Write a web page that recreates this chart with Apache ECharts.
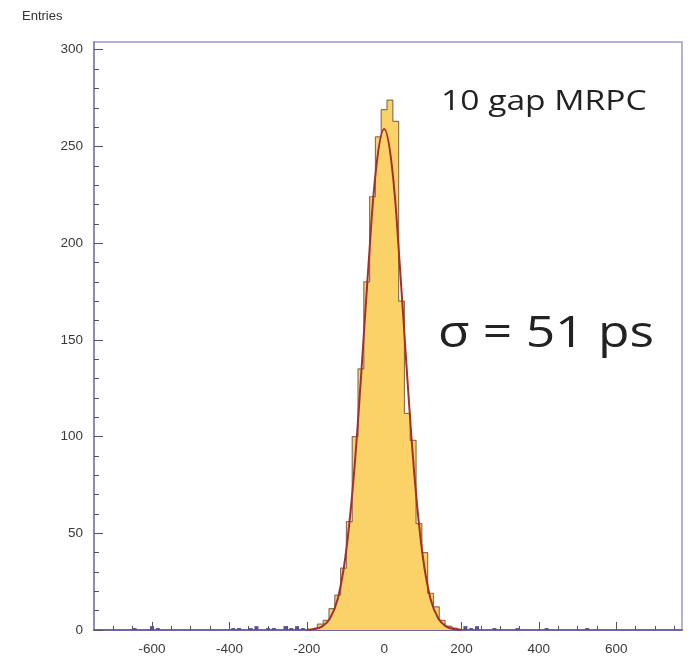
<!DOCTYPE html>
<html>
<head>
<meta charset="utf-8">
<script src="https://cdn.jsdelivr.net/npm/echarts@6/dist/echarts.min.js"></script>
<style>
  html, body { margin: 0; padding: 0; background: #fff; }
  #chart { width: 695px; height: 665px; }
</style>
</head>
<body>
<div id="chart"></div>
<script>
// histogram bin centres (15 ps wide) and entries
const binCenters = [-195, -180, -165, -150, -135, -120, -105, -90, -75, -60, -45, -30, -15, 0,
  15, 30, 45, 60, 75, 90, 105, 120, 135, 150, 165, 180, 195];
const binCounts = [0, 1, 3, 5, 11, 18, 32, 56, 100, 135, 180, 224, 255, 269,
  274, 263, 170, 112, 98, 55, 40, 19, 12, 5, 2, 1, 0];

// scattered single entries far in the tails
const tailX = [-645, -600, -585, -390, -375, -345, -330, -300, -285, -255, -240, -225, -210,
  210, 225, 240, 285, 345, 420, 525];
const tailCounts = [1, 2, 1, 1, 1, 1, 2, 1, 1, 2, 1, 2, 1, 2, 1, 2, 1, 1, 1, 1];

// gaussian fit curve
const fitX = [-200, -180, -160, -140, -120, -100, -80, -60, -40, -20, 0,
  20, 40, 60, 80, 100, 120, 140, 160, 180, 200];
const fitY = [0.1, 0.5, 1.9, 6, 16, 38, 76, 130, 190, 240, 259,
  240, 190, 130, 76, 38, 16, 6, 1.9, 0.5, 0.1];

const xLabels = [-600, -400, -200, 0, 200, 400, 600];
const xMinor = [-700, -650, -600, -550, -500, -450, -400, -350, -300, -250, -200, -150, -100, -50,
  0, 50, 100, 150, 200, 250, 300, 350, 400, 450, 500, 550, 600, 650, 700, 750];
const yLabels = [0, 50, 100, 150, 200, 250, 300];
const yMinor = [10, 20, 30, 40, 60, 70, 80, 90, 110, 120, 130, 140, 160, 170, 180, 190,
  210, 220, 230, 240, 260, 270, 280, 290];

const chart = echarts.init(document.getElementById('chart'));

const labelStyle = { color: '#3a3a3a', fontSize: 13.5, fontFamily: 'Liberation Sans' };

const option = {
  animation: false,
  grid: {
    left: 94, right: 13, top: 42, bottom: 35,
    show: true, borderColor: '#b4b2d0', borderWidth: 2
  },
  xAxis: [
    {
      type: 'value', min: -750, max: 770,
      axisLine: { show: true, onZero: false, lineStyle: { color: '#6e66a4', width: 2 } },
      axisTick: { show: true, inside: true, length: 8, customValues: xLabels, lineStyle: { color: '#555' } },
      axisLabel: { ...labelStyle, margin: 12, customValues: xLabels },
      splitLine: { show: false }
    },
    {
      type: 'value', min: -750, max: 770, position: 'bottom',
      axisLine: { show: false, onZero: false },
      axisTick: { show: true, inside: true, length: 4, customValues: xMinor, lineStyle: { color: '#555' } },
      axisLabel: { show: false },
      splitLine: { show: false }
    }
  ],
  yAxis: [
    {
      type: 'value', min: 0, max: 304,
      axisLine: { show: true, onZero: false, lineStyle: { color: '#8e8ab8', width: 2 } },
      axisTick: { show: true, inside: true, length: 9, customValues: yLabels, lineStyle: { color: '#555' } },
      axisLabel: { ...labelStyle, margin: 11, customValues: yLabels },
      splitLine: { show: false }
    },
    {
      type: 'value', min: 0, max: 304, position: 'left',
      axisLine: { show: false, onZero: false },
      axisTick: { show: true, inside: true, length: 5, customValues: yMinor, lineStyle: { color: '#555' } },
      axisLabel: { show: false },
      splitLine: { show: false }
    }
  ],
  series: [
    {
      name: 'tails',
      type: 'bar',
      barWidth: 4,
      data: tailX.map((x, i) => [x, tailCounts[i]]),
      itemStyle: { color: '#5c5090' },
      z: 3
    },
    {
      name: 'histogram',
      type: 'line',
      step: 'middle',
      symbol: 'none',
      data: binCenters.map((x, i) => [x, binCounts[i]]),
      lineStyle: { color: '#8a7358', width: 1.2 },
      areaStyle: { color: '#fbd268', opacity: 1 },
      z: 2
    },
    {
      name: 'fit',
      type: 'line',
      smooth: 0.4,
      symbol: 'none',
      data: fitX.map((x, i) => [x, fitY[i]]),
      lineStyle: { color: '#a3302a', width: 2 },
      z: 4
    }
  ],
  graphic: [
    { type: 'text', left: 22, top: 10, style: { text: 'Entries', fill: '#333', font: '13px "Liberation Sans"' } },
    { type: 'text', x: 441, y: 88, scaleX: 1.2, style: { text: '10 gap MRPC', fill: '#222', font: '28px "Open Sans"' } },
    { type: 'text', x: 438, y: 312, scaleX: 1.17, style: { text: 'σ = 51 ps', fill: '#222', font: '44px "Open Sans"' } }
  ]
};

chart.setOption(option);
</script>
</body>
</html>
